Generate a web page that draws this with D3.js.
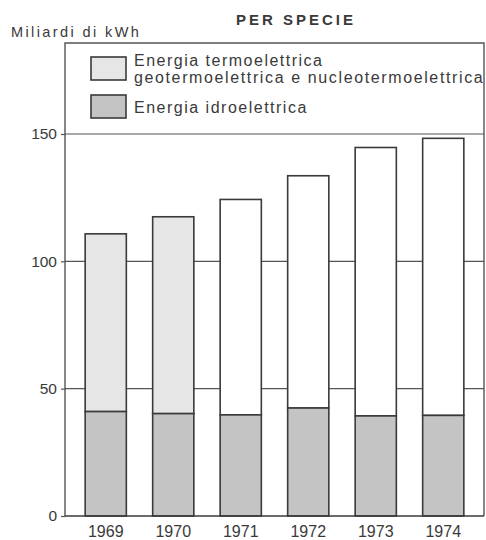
<!DOCTYPE html>
<html><head><meta charset="utf-8">
<script src="https://cdn.jsdelivr.net/npm/d3@7"></script>
<style>body{margin:0;background:#fff;} svg{display:block;font-family:"Liberation Sans",Arial,sans-serif;}</style>
</head><body>
<svg id="c" width="486" height="540"></svg>
<script>
const years = ["1969","1970","1971","1972","1973","1974"];
const hydro = [41.0, 40.2, 39.7, 42.4, 39.3, 39.5];
const total = [110.8, 117.5, 124.3, 133.6, 144.7, 148.3];
const yTicks = [0, 50, 100, 150];
const legendLabels = [["Energia termoelettrica","geotermoelettrica e nucleotermoelettrica"],["Energia idroelettrica"]];

(function(){
const svg = d3.select("#c");
const ink = "#3a3a3a";
const txt = "#3a3a3a";
const x = d3.scaleBand().domain(years).range([72, 477]).paddingInner(0.39).paddingOuter(0.195);
const y = d3.scaleLinear().domain([0, 150]).range([516, 134]);
const pl = 65, pr = 484, pt = 43;

// gridlines
svg.append("g").selectAll("line").data(yTicks.filter(d => d > 0)).join("line")
  .attr("x1", pl).attr("x2", pr).attr("y1", d => y(d)).attr("y2", d => y(d))
  .attr("stroke", "#555").attr("stroke-width", 1.2);

// bars
const thermoFill = (yr) => (+yr < 1971 ? "#e6e6e6" : "#ffffff");
const g = svg.append("g");
g.selectAll("rect.t").data(years).join("rect").attr("class","t")
  .attr("x", d => x(d)).attr("width", x.bandwidth())
  .attr("y", (d,i) => y(total[i])).attr("height", (d,i) => y(hydro[i]) - y(total[i]))
  .attr("fill", d => thermoFill(d)).attr("stroke", ink).attr("stroke-width", 1.6);
g.selectAll("rect.h").data(years).join("rect").attr("class","h")
  .attr("x", d => x(d)).attr("width", x.bandwidth())
  .attr("y", (d,i) => y(hydro[i])).attr("height", (d,i) => y(0) - y(hydro[i]))
  .attr("fill", "#c4c4c4").attr("stroke", ink).attr("stroke-width", 1.6);

// frame
svg.append("path").attr("d", `M${pl},${y(0)}V${pt}H${pr}V${y(0)}`)
  .attr("fill","none").attr("stroke", "#555").attr("stroke-width", 1.4);
svg.append("line").attr("x1", pl).attr("x2", pr).attr("y1", y(0)).attr("y2", y(0))
  .attr("stroke", ink).attr("stroke-width", 1.6);

// y axis
const yAxis = d3.axisLeft(y).tickValues(yTicks).tickSize(4).tickPadding(4);
const ya = svg.append("g").attr("transform", `translate(${pl},0)`).call(yAxis);
ya.select(".domain").remove();
ya.selectAll(".tick line").attr("stroke", "#555").attr("stroke-width", 1.2);
ya.selectAll("text").attr("font-size", 15.5).attr("fill", txt).attr("font-family", "Liberation Sans, Arial, sans-serif");

// x axis labels
const xAxis = d3.axisBottom(x).tickSize(0).tickPadding(10);
const xa = svg.append("g").attr("transform", `translate(0,${y(0)})`).call(xAxis);
xa.select(".domain").remove();
xa.selectAll("text").attr("font-size", 16).attr("fill", txt).attr("font-family", "Liberation Sans, Arial, sans-serif");

// titles
svg.append("text").attr("x", 296).attr("y", 25).attr("text-anchor","middle")
  .attr("font-size", 15).attr("font-weight","bold").attr("letter-spacing", 3).attr("fill", txt).text("PER SPECIE");
svg.append("text").attr("x", 11).attr("y", 37).attr("font-size", 14.5).attr("letter-spacing", 2.4).attr("fill", txt).text("Miliardi di kWh");

// legend
const lg = svg.append("g");
const sw = [{fill:"#e6e6e6", y:57}, {fill:"#c4c4c4", y:95}];
sw.forEach((s) => {
  lg.append("rect").attr("x", 91).attr("y", s.y).attr("width", 35).attr("height", 23)
    .attr("fill", s.fill).attr("stroke", ink).attr("stroke-width", 1.6);
});
const lt = (t, yy, ls) => lg.append("text").attr("x", 134).attr("y", yy).attr("font-size", 16)
  .attr("letter-spacing", ls).attr("fill", txt).text(t);
lt(legendLabels[0][0], 66, 1.5);
lt(legendLabels[0][1], 83, 1.62);
lt(legendLabels[1][0], 113, 1.5);
})();
</script>
</body></html>
